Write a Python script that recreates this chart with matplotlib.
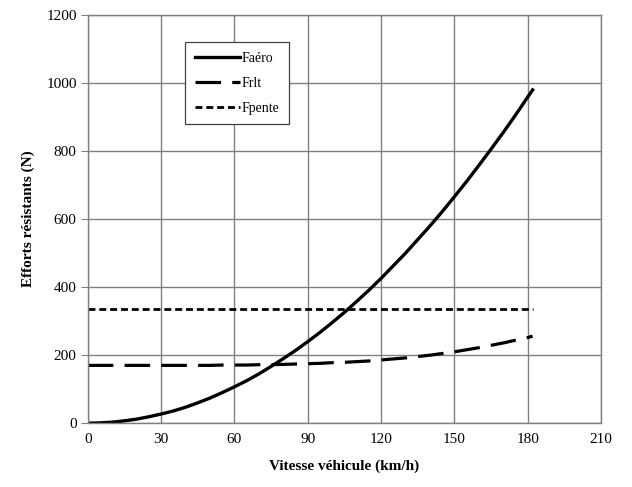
import numpy as np
import matplotlib.pyplot as plt

# vehicle speed (km/h) and resisting forces (N)
vitesse = [0, 5, 10, 15, 20, 25, 30, 35, 40, 45, 50, 55, 60, 65, 70, 75, 80, 85, 90,
           95, 100, 105, 110, 115, 120, 125, 130, 135, 140, 145, 150, 155, 160, 165,
           170, 175, 180, 182]
f_aero = [0, 1, 3, 7, 12, 19, 27, 36, 47, 60, 74, 90, 107, 125, 145, 167, 190, 214, 240,
          267, 296, 326, 358, 391, 426, 463, 500, 540, 580, 622, 666, 711, 758, 806,
          855, 906, 959, 980]
f_rlt = [170, 170, 170, 170, 170, 170, 170, 170, 170, 170, 170, 171, 171, 171, 172, 172,
         173, 174, 175, 176, 178, 179, 181, 183, 186, 189, 192, 196, 200, 205, 210, 216,
         222, 229, 236, 244, 252, 256]
f_pente = [335] * len(vitesse)

plt.rcParams['font.family'] = ['Liberation Serif', 'DejaVu Serif']

fig = plt.figure(figsize=(6.32, 4.87), dpi=100)
ax = fig.add_axes([0.139, 0.131, 0.812, 0.838])

ax.plot(vitesse, f_aero, color='black', lw=2.4, label='Faéro')
ax.plot(vitesse, f_rlt, color='black', lw=2.3, dashes=(8, 3.5), label='Frlt')
ax.plot(vitesse, f_pente, color='black', lw=2.0, dashes=(2.5, 1.4), label='Fpente')

ax.set_xlim(0, 210)
ax.set_ylim(0, 1200)
ax.set_xticks(np.arange(0, 211, 30))
ax.set_yticks(np.arange(0, 1201, 200))
ax.grid(True, color='#808080', lw=1.0)
ax.set_axisbelow(True)
for s in ax.spines.values():
    s.set_color('#808080')
    s.set_linewidth(1.0)
ax.tick_params(axis='both', direction='out', length=5, color='#808080', labelsize=11, pad=3)
ax.tick_params(axis='x', length=0, pad=7)

ax.set_xlabel('Vitesse véhicule (km/h)', fontsize=11, fontweight='bold', labelpad=10)
ax.set_ylabel('Efforts résistants (N)', fontsize=11, fontweight='bold', labelpad=8)

leg = ax.legend(loc='upper left', bbox_to_anchor=(0.189, 0.933), fontsize=10,
                handlelength=3.3, handletextpad=0.1, labelspacing=0.85,
                fancybox=False, framealpha=1, edgecolor='#404040',
                borderpad=0.7, borderaxespad=0)
leg.get_frame().set_linewidth(0.9)

fig.savefig('out.png', dpi=100)
